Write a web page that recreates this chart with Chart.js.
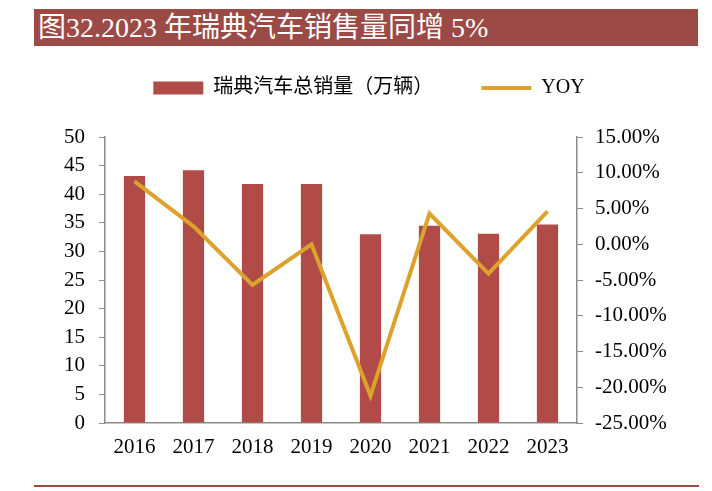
<!DOCTYPE html>
<html>
<head>
<meta charset="utf-8">
<script src="https://cdn.jsdelivr.net/npm/chart.js@4"></script>
<style>
  html, body { margin: 0; padding: 0; background: #fff; }
  #wrap { position: relative; width: 712px; height: 491px; }
  #title {
    position: absolute; left: 34px; top: 9px; width: 664px; height: 37px;
    background: #9c4a46; color: #fff;
    font: 28px 'Liberation Serif', 'Noto Sans CJK SC', serif;
    line-height: 37px; padding-left: 4px; box-sizing: border-box; white-space: nowrap;
  }
  #rule { position: absolute; left: 34px; top: 485px; width: 665px; height: 2px; background: #9c4a46; }
  canvas { position: absolute; left: 0; top: 0; }
</style>
</head>
<body>
<div id="wrap">
  <canvas id="chart" width="712" height="491"></canvas>
  <div id="title">图32.2023 年瑞典汽车销售量同增 5%</div>
  <div id="rule"></div>
</div>
<script>
const years = ['2016', '2017', '2018', '2019', '2020', '2021', '2022', '2023'];
const sales = [43.2, 44.2, 41.8, 41.8, 33.0, 34.5, 33.1, 34.7];
const yoy = [8.8, 2.5, -5.7, 0.0, -21.2, 4.3, -4.1, 4.6];

const serif = "'Liberation Serif', 'Noto Sans CJK SC', serif";
const axisGray = '#8c8c8c';

// push the plot below the legend
const legendGap = {
    id: 'legendGap',
    afterInit(chart) {
        const fit = chart.legend.fit;
        chart.legend.fit = function () {
            fit.call(this);
            this.height = 107;
        };
    }
};

new Chart(document.getElementById('chart'), {
    data: {
        labels: years,
        datasets: [{
            type: 'bar',
            label: '瑞典汽车总销量（万辆）',
            data: sales,
            backgroundColor: '#b04b47',
            borderWidth: 0,
            barPercentage: 0.36,
            categoryPercentage: 1,
            pointStyle: 'rect',
            yAxisID: 'y'
        }, {
            type: 'line',
            label: 'YOY',
            data: yoy,
            borderColor: '#dca22c',
            borderWidth: 4,
            pointRadius: 0,
            pointBorderWidth: 4,
            pointBorderColor: '#dca22c',
            pointStyle: 'line',
            tension: 0,
            order: -1,
            yAxisID: 'y1'
        }]
    },
    options: {
        responsive: false,
        animation: false,
        layout: { padding: { top: 30, left: 26, right: 0, bottom: 0 } },
        plugins: {
            legend: {
                labels: {
                    usePointStyle: true,
                    pointStyleWidth: 50,
                    boxHeight: 13,
                    padding: 48,
                    color: '#000',
                    font: { family: serif, size: 20 },
                    sort: (a, b) => a.datasetIndex - b.datasetIndex
                }
            },
            tooltip: { enabled: false }
        },
        scales: {
            x: {
                grid: { display: false, drawTicks: false },
                border: { color: axisGray, width: 1.5 },
                ticks: { color: '#000', padding: 12, font: { family: serif, size: 21 } },
                afterFit(s) { s.height = 68; }
            },
            y: {
                position: 'left',
                min: 0, max: 50,
                grid: { drawOnChartArea: false, tickLength: 6, color: axisGray },
                border: { color: axisGray, width: 1.5 },
                ticks: { stepSize: 5, color: '#000', padding: 14, font: { family: serif, size: 21 } },
                afterFit(s) { s.width = 79; }
            },
            y1: {
                position: 'right',
                min: -25, max: 15,
                grid: { drawOnChartArea: false, tickLength: 6, color: axisGray },
                border: { color: axisGray, width: 1.5 },
                ticks: {
                    stepSize: 5, color: '#000', padding: 12,
                    font: { family: serif, size: 21 },
                    callback: v => v.toFixed(2) + '%'
                },
                afterFit(s) { s.width = 135; }
            }
        }
    },
    plugins: [legendGap]
});
</script>
</body>
</html>
